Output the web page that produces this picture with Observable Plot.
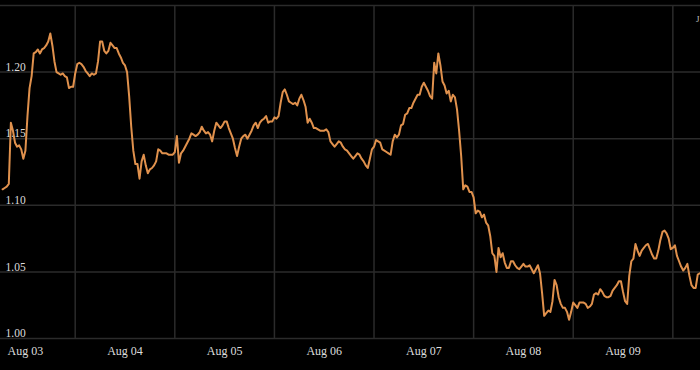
<!DOCTYPE html>
<html>
<head>
<meta charset="utf-8">
<script src="https://cdn.jsdelivr.net/npm/d3@7"></script>
<script src="https://cdn.jsdelivr.net/npm/@observablehq/plot@0.6"></script>
<style>
  html, body { margin: 0; padding: 0; background: #000; overflow: hidden; }
  #chart { width: 700px; height: 370px; }
</style>
</head>
<body>
<div id="chart"></div>
<script>
// Series: half-hourly readings, first at 2023-08-02 18:30 UTC
const seriesStart = "2023-08-02T18:30:00Z";
const stepMinutes = 30;
const values = [
  1.112,1.113,1.114,1.116,1.162,1.156,1.147,1.144,1.145,1.142,
  1.135,1.141,1.167,1.188,1.197,1.214,1.215,1.217,1.214,1.217,
  1.218,1.220,1.223,1.229,1.220,1.208,1.200,1.199,1.198,1.199,
  1.197,1.196,1.188,1.189,1.189,1.199,1.206,1.207,1.206,1.204,
  1.201,1.199,1.197,1.199,1.198,1.199,1.208,1.223,1.223,1.216,
  1.214,1.216,1.222,1.220,1.218,1.218,1.214,1.211,1.207,1.205,
  1.200,1.182,1.159,1.141,1.131,1.131,1.120,1.133,1.138,1.130,
  1.124,1.127,1.128,1.130,1.133,1.142,1.141,1.139,1.139,1.139,
  1.138,1.138,1.138,1.140,1.152,1.132,1.139,1.141,1.144,1.147,
  1.150,1.154,1.153,1.152,1.153,1.155,1.159,1.156,1.154,1.155,
  1.153,1.148,1.156,1.162,1.160,1.158,1.160,1.163,1.163,1.158,
  1.154,1.150,1.143,1.137,1.144,1.150,1.152,1.153,1.150,1.153,
  1.156,1.160,1.162,1.158,1.162,1.164,1.165,1.167,1.162,1.163,
  1.163,1.166,1.165,1.167,1.177,1.185,1.187,1.183,1.178,1.177,
  1.176,1.177,1.175,1.180,1.183,1.179,1.174,1.162,1.165,1.162,
  1.158,1.158,1.157,1.156,1.156,1.156,1.157,1.155,1.148,1.146,
  1.144,1.146,1.148,1.147,1.144,1.142,1.141,1.139,1.137,1.135,
  1.137,1.139,1.138,1.135,1.133,1.130,1.128,1.135,1.142,1.144,
  1.149,1.148,1.147,1.142,1.141,1.140,1.139,1.138,1.148,1.153,
  1.151,1.153,1.160,1.161,1.168,1.169,1.173,1.173,1.177,1.180,
  1.183,1.183,1.189,1.192,1.189,1.186,1.182,1.180,1.207,1.199,
  1.214,1.205,1.193,1.190,1.184,1.186,1.178,1.183,1.181,1.172,
  1.156,1.137,1.112,1.115,1.114,1.110,1.110,1.106,1.094,1.096,
  1.095,1.091,1.093,1.087,1.085,1.077,1.064,1.062,1.050,1.068,
  1.061,1.064,1.057,1.053,1.053,1.058,1.058,1.055,1.053,1.052,
  1.054,1.056,1.054,1.054,1.055,1.052,1.049,1.052,1.055,1.049,
  1.034,1.017,1.019,1.021,1.020,1.028,1.044,1.040,1.031,1.026,
  1.023,1.023,1.020,1.014,1.020,1.027,1.025,1.023,1.027,1.027,
  1.027,1.026,1.023,1.024,1.026,1.033,1.034,1.033,1.037,1.035,
  1.032,1.031,1.031,1.032,1.036,1.038,1.040,1.043,1.043,1.035,
  1.028,1.026,1.047,1.058,1.060,1.071,1.066,1.062,1.066,1.068,
  1.070,1.071,1.067,1.063,1.060,1.060,1.066,1.074,1.080,1.081,
  1.079,1.075,1.067,1.068,1.070,1.062,1.058,1.054,1.051,1.053,
  1.056,1.047,1.040,1.038,1.038,1.048,1.049
];

// Axes / scale settings
const xDomain = ["2023-08-02T18:00:00Z", "2023-08-09T18:40:00Z"];
const yDomain = [1.00, 1.25];
const dayTicks = ["2023-08-03","2023-08-04","2023-08-05","2023-08-06","2023-08-07","2023-08-08","2023-08-09"];
const gridXTicks = ["2023-08-03T12:00:00Z","2023-08-04T12:00:00Z","2023-08-05T12:00:00Z","2023-08-06T12:00:00Z","2023-08-07T12:00:00Z","2023-08-08T12:00:00Z","2023-08-09T12:00:00Z"];
const gridYTicks = [1.00, 1.05, 1.10, 1.15, 1.20, 1.25];
const yLabelTicks = [1.00, 1.05, 1.10, 1.15, 1.20];
const cornerLabel = ["J"];

const t0 = new Date(seriesStart);
const data = values.map((v, i) => ({date: d3.utcMinute.offset(t0, i * stepMinutes), value: v}));
const days = dayTicks.map(d => new Date(d + "T00:00:00Z"));
const gridDays = gridXTicks.map(d => new Date(d));

const grid = "#2b2b2b";
const chart = Plot.plot({
  width: 700,
  height: 370,
  marginLeft: 0,
  marginRight: 0,
  marginTop: 5,
  marginBottom: 32,
  style: {background: "#000", fontFamily: "'Liberation Serif', serif", color: "#d8d8d8", overflow: "hidden"},
  x: {type: "utc", domain: xDomain.map(d => new Date(d))},
  y: {domain: yDomain},
  marks: [
    Plot.ruleY(gridYTicks, {stroke: grid, strokeWidth: 1.5}),
    Plot.ruleX(gridDays, {y1: yDomain[0], y2: yDomain[1], stroke: grid, strokeWidth: 1.5}),
    Plot.axisY(yLabelTicks, {anchor: "left", tickSize: 0, tickPadding: 0, dx: 5, dy: -5, textAnchor: "start",
      tickFormat: d3.format(".2f"), fontSize: 11.5, fill: "#dddddd", label: null}),
    Plot.axisX(days, {anchor: "bottom", tickSize: 0, tickPadding: 8, tickFormat: d3.utcFormat("%b %d"),
      fontSize: 12, fill: "#dddddd", label: null}),
    Plot.line(data, {x: "date", y: "value", stroke: "#e0914d", strokeWidth: 2, curve: "linear"}),
    Plot.text(cornerLabel, {frameAnchor: "top-right", textAnchor: "end", dx: -1, dy: 10, fontSize: 9, fill: "#bbbbbb"})
  ]
});
document.getElementById("chart").append(chart);
</script>
</body>
</html>
